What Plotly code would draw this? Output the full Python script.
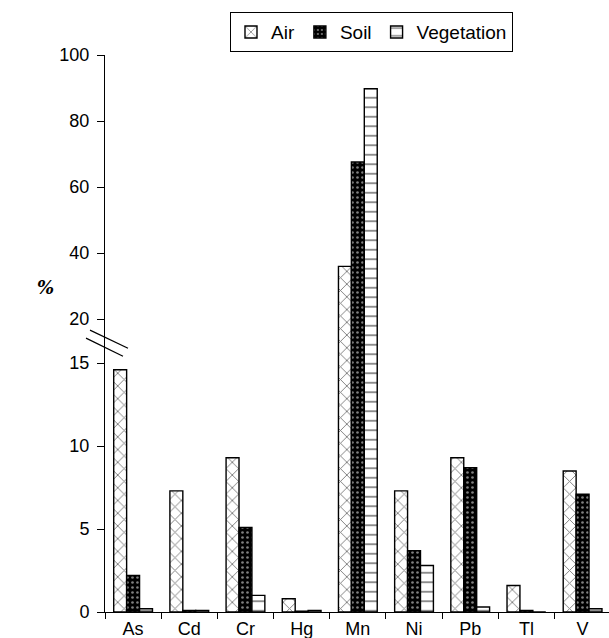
import plotly.graph_objects as go

# Percentage contributions by element and compartment
elements = ["As", "Cd", "Cr", "Hg", "Mn", "Ni", "Pb", "Tl", "V"]
air = [14.6, 7.3, 9.3, 0.8, 36.0, 7.3, 9.3, 1.6, 8.5]
soil = [2.2, 0.1, 5.1, 0.05, 67.6, 3.7, 8.7, 0.1, 7.1]
vegetation = [0.2, 0.1, 1.0, 0.1, 89.8, 2.8, 0.3, 0.0, 0.2]

tick_values = [0, 5, 10, 15, 20, 40, 60, 80, 100]

# Broken y-axis: 0-15 drawn at full scale, a short gap up to 20,
# then 20-100 compressed.
LOW_MAX = 15.0
BREAK = 20.0
GAP = 44.0 / 16.6          # display units spanned by 15..20
UPPER_K = 3.304 / 16.6     # display units per value unit above 20


def to_display(v):
    if v <= LOW_MAX:
        return v
    if v <= BREAK:
        return LOW_MAX + (v - LOW_MAX) * GAP / (BREAK - LOW_MAX)
    return LOW_MAX + GAP + (v - BREAK) * UPPER_K


def disp(values):
    return [to_display(v) for v in values]


FONT = "Liberation Sans, Arial, Helvetica, sans-serif"
line = dict(color="black", width=1.4)

fig = go.Figure()
fig.add_trace(go.Bar(
    name="Air", x=elements, y=disp(air), customdata=air,
    hovertemplate="%{x}: %{customdata}%<extra>Air</extra>",
    marker=dict(color="white", line=line,
                pattern=dict(shape="x", fgcolor="black", size=9,
                             solidity=0.2, fillmode="overlay")),
))
fig.add_trace(go.Bar(
    name="Soil", x=elements, y=disp(soil), customdata=soil,
    hovertemplate="%{x}: %{customdata}%<extra>Soil</extra>",
    marker=dict(color="black", line=line,
                pattern=dict(shape=".", fgcolor="white", size=5,
                             solidity=0.22, fillmode="overlay")),
))
fig.add_trace(go.Bar(
    name="Vegetation", x=elements, y=disp(vegetation), customdata=vegetation,
    hovertemplate="%{x}: %{customdata}%<extra>Vegetation</extra>",
    marker=dict(color="white", line=line,
                pattern=dict(shape="-", fgcolor="black", size=9.5,
                             solidity=0.18, fillmode="overlay")),
))

# Axis-break marks
for y0, y1, x0, x1 in [(16.99, 15.90, -0.0298, 0.0456),
                       (16.51, 15.42, -0.0377, 0.0357)]:
    fig.add_shape(type="line", xref="paper", yref="y",
                  x0=x0, x1=x1, y0=y0, y1=y1,
                  line=dict(color="black", width=1.2))

fig.add_annotation(text="<i><b>%</b></i>", xref="paper", yref="paper",
                   x=-0.119, y=0.583, xanchor="center", yanchor="middle",
                   showarrow=False,
                   font=dict(family="DejaVu Serif", size=18, color="black"))

fig.update_layout(
    width=609, height=638,
    margin=dict(l=105, r=0, t=55, b=26, autoexpand=False),
    paper_bgcolor="white", plot_bgcolor="white",
    barmode="group", bargap=0.31, bargroupgap=0,
    font=dict(family=FONT, size=18, color="black"),
    legend=dict(orientation="h", x=0.248, xanchor="left",
                y=1.077, yanchor="top",
                bordercolor="black", borderwidth=1,
                font=dict(size=19), itemwidth=30),
    xaxis=dict(range=[-0.5, 8.47], showline=True, linecolor="black",
               linewidth=1, ticks="outside", tickson="boundaries",
               ticklen=6, tickcolor="black", showgrid=False,
               automargin=False),
    yaxis=dict(range=[0, to_display(100)], showline=True,
               linecolor="black", linewidth=1, ticks="outside",
               ticklen=7, tickcolor="black", showgrid=False,
               zeroline=False, automargin=False,
               tickvals=disp(tick_values),
               ticktext=[str(v) for v in tick_values],
               ticklabelstandoff=4),
)

fig.write_html("out.html")
